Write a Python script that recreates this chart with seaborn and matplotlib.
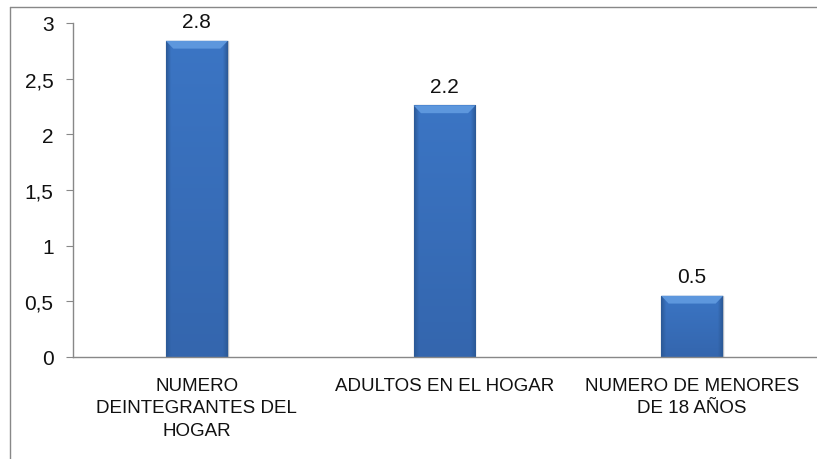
import numpy as np
import pandas as pd
import matplotlib
matplotlib.use("Agg")
import matplotlib.pyplot as plt
import matplotlib.patches as mpatches
from matplotlib.colors import to_rgb
import seaborn as sns

sns.set_style("white")
plt.rcParams['font.family'] = ['Liberation Sans Narrow', 'Liberation Sans', 'DejaVu Sans']

# data
categorias = ["NUMERO\nDEINTEGRANTES DEL\nHOGAR", "ADULTOS EN EL HOGAR", "NUMERO DE MENORES\nDE 18 AÑOS"]
valores = [2.84, 2.26, 0.55]
etiquetas = ["2.8", "2.2", "0.5"]
yticks = [0, 0.5, 1, 1.5, 2, 2.5, 3]
ytick_labels = ["0", "0,5", "1", "1,5", "2", "2,5", "3"]

df = pd.DataFrame({"cat": categorias, "val": valores})

fig = plt.figure(figsize=(8.17, 4.60), dpi=100)
ax = fig.add_axes([73 / 817, 1 - 358 / 460, 743 / 817, 334 / 460])

sns.barplot(data=df, x="cat", y="val", color="#3A70BD", width=0.25,
            saturation=1, edgecolor="#B5BCC6", linewidth=1.0, ax=ax)

# excel-like shading: dark sides, slightly darker towards the bottom
top_c = np.array(to_rgb("#3B75C4"))
bot_c = np.array(to_rgb("#3466AE"))
side_c = np.array(to_rgb("#2C5A98"))
xs = np.linspace(0, 1, 60)
side_w = np.clip(1 - np.minimum(xs, 1 - xs) / 0.08, 0, 1)
for p in ax.patches:
    x0, y0 = p.get_x(), p.get_y()
    w, h = p.get_width(), p.get_height()
    ys = np.linspace(1, 0, 80)[:, None, None]
    base = bot_c + (top_c - bot_c) * ys
    img = base * (1 - side_w[None, :, None]) + side_c * side_w[None, :, None]
    im = ax.imshow(img, aspect="auto", extent=[x0, x0 + w, y0, y0 + h], zorder=p.get_zorder() + 0.1)
    im.set_clip_path(p)
    # lighter bevel at the top
    bh = 0.07
    top = mpatches.Polygon([[x0, y0 + h], [x0 + w, y0 + h], [x0 + w * 0.88, y0 + h - bh], [x0 + w * 0.12, y0 + h - bh]],
                           closed=True, color="#5D97DD", zorder=p.get_zorder() + 0.2, lw=0)
    ax.add_patch(top)

ax.bar_label(ax.containers[0], labels=etiquetas, padding=7, fontsize=15, color="#111111")

ax.set_xlim(-0.5, 2.5)
ax.set_ylim(0, 3)
ax.set_yticks(yticks)
ax.set_yticklabels(ytick_labels, fontsize=15, color="#111111")
ax.tick_params(axis="y", which="both", left=True, length=5, width=0.8, color="#888888", pad=9)
ax.tick_params(axis="x", bottom=False, pad=11, labelsize=13.5, labelcolor="#111111")
for lbl in ax.get_xticklabels():
    lbl.set_linespacing(1.4)
ax.set_xlabel("")
ax.set_ylabel("")
for s in ["top", "right"]:
    ax.spines[s].set_visible(False)
for s in ["left", "bottom"]:
    ax.spines[s].set_color("#888888")
    ax.spines[s].set_linewidth(1)

# outer chart frame
fig.add_artist(plt.Line2D([10 / 817, 10 / 817], [0, 1 - 8 / 460], transform=fig.transFigure, color="#888888", lw=1))
fig.add_artist(plt.Line2D([10 / 817, 1], [1 - 8 / 460, 1 - 8 / 460], transform=fig.transFigure, color="#888888", lw=1))

plt.savefig("out.png", dpi=100)
